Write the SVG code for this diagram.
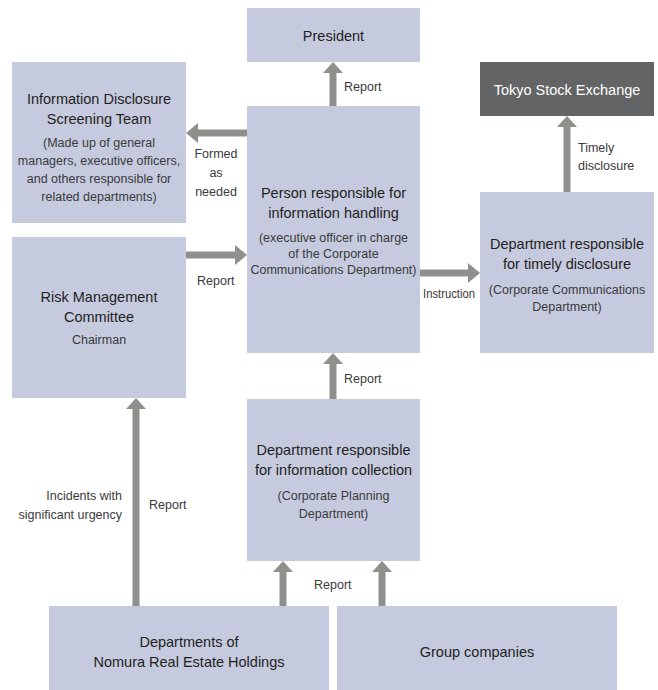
<svg xmlns="http://www.w3.org/2000/svg" width="658" height="690" viewBox="0 0 658 690">
  <defs>
    <style>
      .box { fill: #c5cadf; }
      .dark { fill: #636466; }
      .t { font-family: "Liberation Sans Narrow", "Liberation Sans", Arial, sans-serif; font-size: 14.5px; fill: #231f20; text-anchor: middle; }
      .s { font-family: "Liberation Sans Narrow", "Liberation Sans", Arial, sans-serif; font-size: 12.5px; fill: #3a3a3a; text-anchor: middle; }
      .w { fill: #ffffff; }
      .lbl { font-family: "Liberation Sans Narrow", "Liberation Sans", Arial, sans-serif; font-size: 12.5px; fill: #3a3a3a; }
      .shaft { stroke: #8f908b; stroke-width: 7; fill: none; }
      .head { fill: #8f908b; }
    </style>
  </defs>

  <rect width="658" height="690" fill="#ffffff"/>

  <!-- connectors: thick shafts with triangular heads -->
  <g id="connectors">
    <!-- person -> president -->
    <line class="shaft" x1="333" y1="106" x2="333" y2="71"/>
    <polygon class="head" points="323,73 343,73 333,62"/>
    <!-- person -> screening team -->
    <line class="shaft" x1="247" y1="133" x2="196" y2="133"/>
    <polygon class="head" points="198,123 198,143 186,133"/>
    <!-- risk committee -> person -->
    <line class="shaft" x1="186" y1="255" x2="237" y2="255"/>
    <polygon class="head" points="235,245 235,265 247,255"/>
    <!-- person -> timely disclosure dept -->
    <line class="shaft" x1="420" y1="273" x2="470" y2="273"/>
    <polygon class="head" points="468,263 468,283 480,273"/>
    <!-- timely disclosure dept -> TSE -->
    <line class="shaft" x1="567" y1="192" x2="567" y2="125"/>
    <polygon class="head" points="557,127 577,127 567,116"/>
    <!-- collection dept -> person -->
    <line class="shaft" x1="333" y1="399" x2="333" y2="362"/>
    <polygon class="head" points="323,364 343,364 333,353"/>
    <!-- Nomura depts -> risk committee -->
    <line class="shaft" x1="136" y1="606" x2="136" y2="407"/>
    <polygon class="head" points="126,409 146,409 136,398"/>
    <!-- Nomura depts -> collection dept -->
    <line class="shaft" x1="283" y1="606" x2="283" y2="570"/>
    <polygon class="head" points="273,572 293,572 283,561"/>
    <!-- group companies -> collection dept -->
    <line class="shaft" x1="382" y1="606" x2="382" y2="570"/>
    <polygon class="head" points="372,572 392,572 382,561"/>

    <!-- connector labels -->
    <text class="lbl" x="344" y="91">Report</text>
    <text class="lbl" x="216" y="158" text-anchor="middle">Formed</text>
    <text class="lbl" x="216" y="177" text-anchor="middle">as</text>
    <text class="lbl" x="216" y="196" text-anchor="middle">needed</text>
    <text class="lbl" x="197" y="285">Report</text>
    <text class="lbl" x="423" y="298" textLength="52" lengthAdjust="spacingAndGlyphs">Instruction</text>
    <text class="lbl" x="578" y="152">Timely</text>
    <text class="lbl" x="578" y="170">disclosure</text>
    <text class="lbl" x="344" y="383">Report</text>
    <text class="lbl" x="122" y="500" text-anchor="end">Incidents with</text>
    <text class="lbl" x="122" y="519" text-anchor="end">significant urgency</text>
    <text class="lbl" x="149" y="509">Report</text>
    <text class="lbl" x="314" y="589">Report</text>
  </g>

  <g id="president">
    <rect class="box" x="247" y="8" width="173" height="54"/>
    <text class="t" x="333.5" y="41">President</text>
  </g>

  <g id="screening-team">
    <rect class="box" x="12" y="62" width="174" height="161"/>
    <text class="t" x="99" y="104">Information Disclosure</text>
    <text class="t" x="99" y="124">Screening Team</text>
    <text class="s" x="99" y="147">(Made up of general</text>
    <text class="s" x="99" y="165">managers, executive officers,</text>
    <text class="s" x="99" y="183">and others responsible for</text>
    <text class="s" x="99" y="201">related departments)</text>
  </g>

  <g id="tse">
    <rect class="dark" x="480" y="62" width="174" height="54"/>
    <text class="t w" x="567" y="95">Tokyo Stock Exchange</text>
  </g>

  <g id="info-handling">
    <rect class="box" x="247" y="106" width="173" height="247"/>
    <text class="t" x="333.5" y="198">Person responsible for</text>
    <text class="t" x="333.5" y="218">information handling</text>
    <text class="s" x="333.5" y="242">(executive officer in charge</text>
    <text class="s" x="333.5" y="258">of the Corporate</text>
    <text class="s" x="333.5" y="274">Communications Department)</text>
  </g>

  <g id="timely-disclosure">
    <rect class="box" x="480" y="192" width="174" height="161"/>
    <text class="t" x="567" y="249">Department responsible</text>
    <text class="t" x="567" y="269">for timely disclosure</text>
    <text class="s" x="567" y="294">(Corporate Communications</text>
    <text class="s" x="567" y="311">Department)</text>
  </g>

  <g id="risk-committee">
    <rect class="box" x="12" y="237" width="174" height="161"/>
    <text class="t" x="99" y="302">Risk Management</text>
    <text class="t" x="99" y="322">Committee</text>
    <text class="s" x="99" y="344">Chairman</text>
  </g>

  <g id="info-collection">
    <rect class="box" x="247" y="399" width="173" height="162"/>
    <text class="t" x="333.5" y="455">Department responsible</text>
    <text class="t" x="333.5" y="475">for information collection</text>
    <text class="s" x="333.5" y="500">(Corporate Planning</text>
    <text class="s" x="333.5" y="518">Department)</text>
  </g>

  <g id="nomura-depts">
    <rect class="box" x="49" y="606" width="280" height="84"/>
    <text class="t" x="189" y="647">Departments of</text>
    <text class="t" x="189" y="667">Nomura Real Estate Holdings</text>
  </g>

  <g id="group-companies">
    <rect class="box" x="337" y="606" width="280" height="84"/>
    <text class="t" x="477" y="657">Group companies</text>
  </g>
</svg>
